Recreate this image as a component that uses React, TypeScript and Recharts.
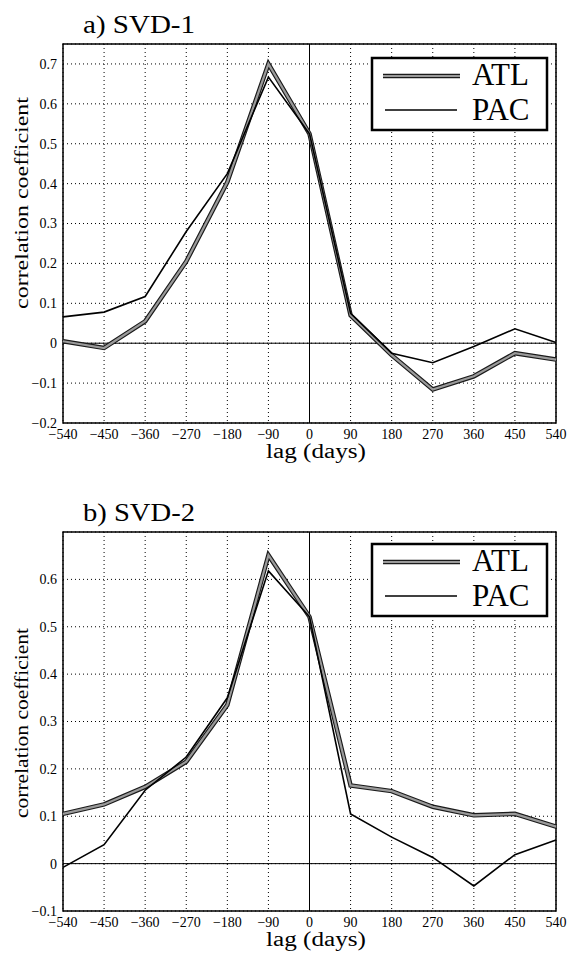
import React from 'react';
import { LineChart, Line, XAxis, YAxis, CartesianGrid, ReferenceLine, ReferenceArea } from 'recharts';

// ---- data ----
const lags = [-540, -450, -360, -270, -180, -90, 0, 90, 180, 270, 360, 450, 540];
const atl1 = [0.005, -0.012, 0.055, 0.205, 0.404, 0.7, 0.525, 0.07, -0.03, -0.116, -0.083, -0.025, -0.041];
const pac1 = [0.066, 0.078, 0.117, 0.28, 0.425, 0.667, 0.525, 0.075, -0.025, -0.049, -0.008, 0.036, 0.002];
const atl2 = [0.105, 0.125, 0.162, 0.215, 0.335, 0.651, 0.521, 0.165, 0.153, 0.12, 0.102, 0.105, 0.078];
const pac2 = [-0.008, 0.04, 0.155, 0.225, 0.35, 0.618, 0.521, 0.105, 0.056, 0.013, -0.047, 0.019, 0.05];
const yTicks1 = [-0.2, -0.1, 0, 0.1, 0.2, 0.3, 0.4, 0.5, 0.6, 0.7];
const yTicks2 = [-0.1, 0, 0.1, 0.2, 0.3, 0.4, 0.5, 0.6];
const seriesNames = ['ATL', 'PAC'];
const titles = ['a) SVD-1', 'b) SVD-2'];
const xLabel = 'lag (days)';
const yLabel = 'correlation coefficient';

const FONT = "'Liberation Serif', 'Times New Roman', serif";
const fmt = (v: number) => (v === 0 ? '0' : String(v).replace('-', '\u2212'));

type PanelProps = {
  top: number;
  atl: number[];
  pac: number[];
  yDomain: [number, number];
  yTicks: number[];
  title: string;
  ylabCy: number;
  ylabLen: number;
  legendTop: number;
};

function Panel({ top, atl, pac, yDomain, yTicks, title, ylabCy, ylabLen, legendTop }: PanelProps) {
  const data = lags.map((lag, i) => ({ lag, atl: atl[i], pac: pac[i] }));
  const tickStyle = { fill: '#000', fontSize: 14, fontFamily: FONT, style: { fontFamily: FONT } };
  return (
    <div style={{ position: 'absolute', left: 0, top, width: 567, height: 470 }}>
      <LineChart width={567} height={470} data={data} margin={{ top: 44, right: 11, bottom: 17, left: 0 }} style={{ fontFamily: FONT }}>
        <CartesianGrid stroke="#000" strokeDasharray="1 3" strokeWidth={1} />
        <XAxis
          dataKey="lag"
          type="number"
          domain={[-540, 540]}
          ticks={lags}
          interval={0}
          tickFormatter={fmt}
          height={30}
          tickLine={false}
          axisLine={false}
          tickSize={6}
          tickMargin={0}
          tick={tickStyle}
        />
        <YAxis
          type="number"
          domain={yDomain}
          ticks={yTicks}
          interval={0}
          tickFormatter={fmt}
          width={63}
          tickLine={false}
          axisLine={false}
          tickSize={4}
          tickMargin={2}
          tick={tickStyle}
          allowDataOverflow
        />
        <ReferenceLine x={0} stroke="#000" strokeWidth={1} />
        <ReferenceLine y={0} stroke="#000" strokeWidth={1} />
        <ReferenceArea x1={-540} x2={540} y1={yDomain[0]} y2={yDomain[1]} fill="none" fillOpacity={0} stroke="#000" strokeWidth={1.5} />
        <Line dataKey="atl" name="ATL-edge" stroke="#1a1a1a" strokeWidth={4.5} dot={false} activeDot={false} isAnimationActive={false} />
        <Line dataKey={(d: any) => d.atl} name={seriesNames[0]} stroke="#9a9a9a" strokeWidth={2.2} dot={false} activeDot={false} isAnimationActive={false} />
        <Line dataKey="pac" name={seriesNames[1]} stroke="#000" strokeWidth={1.6} dot={false} activeDot={false} isAnimationActive={false} />
      </LineChart>
      <svg width={567} height={470} style={{ position: 'absolute', left: 0, top: 0, pointerEvents: 'none', fontFamily: FONT }}>
        <text x={83} y={33} fontSize={26} textLength={112} lengthAdjust="spacingAndGlyphs" fill="#000">{title}</text>
        <text
          transform={`translate(28, ${ylabCy}) rotate(-90)`}
          textAnchor="middle"
          fontSize={19}
          textLength={ylabLen}
          lengthAdjust="spacingAndGlyphs"
          fill="#000"
        >
          {yLabel}
        </text>
        <text x={316} y={458} textAnchor="middle" fontSize={20} textLength={100} lengthAdjust="spacingAndGlyphs" fill="#000">{xLabel}</text>
        <g>
          <rect x={372} y={legendTop} width={175} height={72} fill="#fff" stroke="#000" strokeWidth={2.5} />
          <line x1={383} x2={460} y1={legendTop + 18} y2={legendTop + 18} stroke="#1a1a1a" strokeWidth={4.5} />
          <line x1={383} x2={460} y1={legendTop + 18} y2={legendTop + 18} stroke="#9a9a9a" strokeWidth={2.2} />
          <line x1={385} x2={457} y1={legendTop + 52} y2={legendTop + 52} stroke="#000" strokeWidth={1.4} />
          <text x={472} y={legendTop + 27} fontSize={31} fill="#000">{seriesNames[0]}</text>
          <text x={472} y={legendTop + 62} fontSize={31} fill="#000">{seriesNames[1]}</text>
        </g>
      </svg>
    </div>
  );
}

export default function App() {
  return (
    <div style={{ position: 'absolute', left: 0, top: 0, width: 567, height: 953, background: '#fff', overflow: 'hidden' }}>
      <Panel top={0} atl={atl1} pac={pac1} yDomain={[-0.2, 0.75]} yTicks={yTicks1} title={titles[0]} ylabCy={203} ylabLen={212} legendTop={58} />
      <Panel top={488} atl={atl2} pac={pac2} yDomain={[-0.1, 0.7]} yTicks={yTicks2} title={titles[1]} ylabCy={235} ylabLen={190} legendTop={56} />
    </div>
  );
}
